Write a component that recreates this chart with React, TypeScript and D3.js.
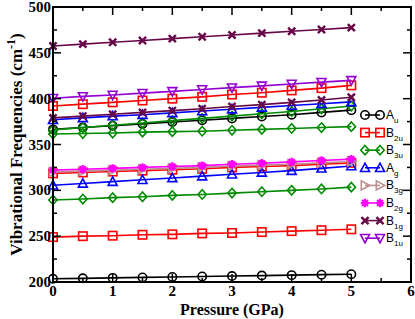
import React from "react";
import * as d3 from "d3";

const pressures = [0, 0.5, 1, 1.5, 2, 2.5, 3, 3.5, 4, 4.5, 5];

const auLow = [203.5, 204, 204.5, 205, 205.5, 206, 206.5, 207, 207.5, 208, 208.5];
const auHigh = [366.5, 368.5, 370.5, 372.5, 374.5, 376.5, 378.5, 380.5, 382.5, 385, 387.5];
const b2uLow = [249, 250, 250.5, 251.5, 252, 253, 253.5, 254.5, 255.5, 256.5, 257.5];
const b2uMid = [318.5, 319.5, 320.5, 321.5, 322.5, 323.5, 325, 326, 327, 328.5, 330];
const b2uHigh = [392, 394, 396, 398, 400, 402, 404.5, 406.5, 409, 411.5, 414.5];
const b3uLow = [289.5, 290.5, 292, 293, 294.5, 295.5, 297, 298.5, 300, 301.5, 303.5];
const b3uMid = [361.5, 362, 362.5, 363.5, 364, 364.5, 365.5, 366.5, 367.5, 368.5, 369.5];
const b3uHigh = [366, 368.5, 371, 373.5, 376, 378.5, 381, 383.5, 386, 389, 392];
const agLow = [305.5, 307.5, 309.5, 311.5, 313.5, 315.5, 317.5, 319.5, 321.5, 324, 326.5];
const agHigh = [377, 379, 381, 382.5, 384.5, 386.5, 388.5, 390.5, 392.5, 394.5, 396.5];
const b3g = [320, 321, 322, 323, 324, 325, 326.5, 327.5, 328.5, 330, 331.5];
const b2g = [322, 323, 324, 325, 326, 327, 328.5, 329.5, 331, 332.5, 334];
const b1gHigh = [457.5, 459.5, 461.5, 463.5, 465.5, 467.5, 469.5, 471.5, 473.5, 475.5, 477.5];
const b1gLow = [379, 381, 383, 385, 387, 389, 391.5, 393.5, 396, 398.5, 401.5];
const b1u = [400.5, 402.5, 404, 406, 408, 410, 412, 414, 416, 418, 420];

const xTicks = [0, 1, 2, 3, 4, 5, 6];
const yTicks = [200, 250, 300, 350, 400, 450, 500];

type Shape = "circle" | "square" | "diamond" | "triUp" | "triRight" | "star" | "x" | "triDown";

const seriesList: { main: string; sub: string; color: string; shape: Shape; lines: number[][] }[] = [
  { main: "A", sub: "u", color: "#000000", shape: "circle", lines: [auLow, auHigh] },
  { main: "B", sub: "2u", color: "#ff0000", shape: "square", lines: [b2uLow, b2uMid, b2uHigh] },
  { main: "B", sub: "3u", color: "#008b00", shape: "diamond", lines: [b3uLow, b3uMid, b3uHigh] },
  { main: "A", sub: "g", color: "#0000ff", shape: "triUp", lines: [agLow, agHigh] },
  { main: "B", sub: "3g", color: "#bc8f8f", shape: "triRight", lines: [b3g] },
  { main: "B", sub: "2g", color: "#ff00ff", shape: "star", lines: [b2g] },
  { main: "B", sub: "1g", color: "#670748", shape: "x", lines: [b1gHigh, b1gLow] },
  { main: "B", sub: "1u", color: "#9400d3", shape: "triDown", lines: [b1u] },
];

const W = 415;
const H = 319;
const left = 53;
const right = 411;
const top = 7;
const bottom = 282;

const x = d3.scaleLinear().domain([0, 6]).range([left, right]);
const y = d3.scaleLinear().domain([200, 500]).range([bottom, top]);

function Marker({ cx, cy, shape, color }: { cx: number; cy: number; shape: Shape; color: string }) {
  const s = 4.2;
  const common = { fill: "none", stroke: color, strokeWidth: 1.6 };
  switch (shape) {
    case "circle":
      return <circle cx={cx} cy={cy} r={s} {...common} />;
    case "square":
      return <rect x={cx - s} y={cy - s} width={2 * s} height={2 * s} {...common} />;
    case "diamond":
      return <path d={`M${cx},${cy - s - 0.5}L${cx + s},${cy}L${cx},${cy + s + 0.5}L${cx - s},${cy}Z`} {...common} />;
    case "triUp":
      return <path d={`M${cx},${cy - s - 0.5}L${cx + s + 0.3},${cy + s - 0.5}L${cx - s - 0.3},${cy + s - 0.5}Z`} {...common} />;
    case "triDown":
      return <path d={`M${cx},${cy + s + 0.5}L${cx + s + 0.3},${cy - s + 0.5}L${cx - s - 0.3},${cy - s + 0.5}Z`} {...common} />;
    case "triRight":
      return <path d={`M${cx + s + 0.5},${cy}L${cx - s + 0.5},${cy - s - 0.3}L${cx - s + 0.5},${cy + s + 0.3}Z`} {...common} />;
    case "star": {
      const r = s;
      const d = [0, 45, 90, 135]
        .map((a) => {
          const rad = (a * Math.PI) / 180;
          const dx = r * Math.cos(rad);
          const dy = r * Math.sin(rad);
          return `M${cx - dx},${cy - dy}L${cx + dx},${cy + dy}`;
        })
        .join("");
      return (
        <g>
          <circle cx={cx} cy={cy} r={2.2} fill={color} />
          <path d={d} fill="none" stroke={color} strokeWidth={2.2} />
        </g>
      );
    }
    case "x": {
      const r = s * 0.85;
      return (
        <path
          d={`M${cx - r},${cy - r}L${cx + r},${cy + r}M${cx - r},${cy + r}L${cx + r},${cy - r}`}
          fill="none"
          stroke={color}
          strokeWidth={2.4}
        />
      );
    }
  }
  return null;
}

export default function App() {
  const line = d3
    .line<number>()
    .x((_, i) => x(pressures[i]))
    .y((v) => y(v));

  const xMinor = d3.range(0, 6.01, 0.5).filter((v) => !xTicks.includes(v));
  const yMinor = d3.range(200, 500.1, 25).filter((v) => !yTicks.includes(v));

  const legendX1 = 365;
  const legendX2 = 380;
  const legendY0 = 115;
  const legendDy = 17.6;

  return (
    <svg width={W} height={H} style={{ position: "absolute", left: 0, top: 0 }}>
      <rect x={0} y={0} width={W} height={H} fill="#fff" />
      {/* data */}
      {seriesList.map((s, si) =>
        s.lines.map((vals, li) => (
          <g key={`${si}-${li}`}>
            <path d={line(vals) || ""} fill="none" stroke={s.color} strokeWidth={1.6} />
            {vals.map((v, i) => (
              <Marker key={i} cx={x(pressures[i])} cy={y(v)} shape={s.shape} color={s.color} />
            ))}
          </g>
        ))
      )}

      {/* frame */}
      <rect x={left} y={top} width={right - left} height={bottom - top} fill="none" stroke="#000" strokeWidth={2} />

      {/* x ticks */}
      {xTicks.map((t) => (
        <g key={`xt${t}`}>
          <line x1={x(t)} x2={x(t)} y1={bottom} y2={bottom - 8} stroke="#000" strokeWidth={1.5} />
          <line x1={x(t)} x2={x(t)} y1={top} y2={top + 8} stroke="#000" strokeWidth={1.5} />
          <text
            x={x(t)}
            y={bottom + 14}
            textAnchor="middle"
            fontFamily="'Liberation Serif', 'Times New Roman', serif"
            fontWeight="bold"
            fontSize={15}
          >
            {t}
          </text>
        </g>
      ))}
      {xMinor.map((t) => (
        <g key={`xm${t}`}>
          <line x1={x(t)} x2={x(t)} y1={bottom} y2={bottom - 4} stroke="#000" strokeWidth={1.5} />
          <line x1={x(t)} x2={x(t)} y1={top} y2={top + 4} stroke="#000" strokeWidth={1.5} />
        </g>
      ))}

      {/* y ticks */}
      {yTicks.map((t) => (
        <g key={`yt${t}`}>
          <line x1={left} x2={left + 8} y1={y(t)} y2={y(t)} stroke="#000" strokeWidth={1.5} />
          <line x1={right} x2={right - 8} y1={y(t)} y2={y(t)} stroke="#000" strokeWidth={1.5} />
          <text
            x={left - 2}
            y={y(t) + 5}
            textAnchor="end"
            fontFamily="'Liberation Serif', 'Times New Roman', serif"
            fontWeight="bold"
            fontSize={15}
          >
            {t}
          </text>
        </g>
      ))}
      {yMinor.map((t) => (
        <g key={`ym${t}`}>
          <line x1={left} x2={left + 4} y1={y(t)} y2={y(t)} stroke="#000" strokeWidth={1.5} />
          <line x1={right} x2={right - 4} y1={y(t)} y2={y(t)} stroke="#000" strokeWidth={1.5} />
        </g>
      ))}

      {/* axis labels */}
      <text
        x={(left + right) / 2}
        y={315}
        textAnchor="middle"
        fontFamily="'Liberation Serif', 'Times New Roman', serif"
        fontWeight="bold"
        fontSize={16}
      >
        Pressure (GPa)
      </text>
      <text
        transform={`translate(22,${(top + bottom) / 2}) rotate(-90)`}
        textAnchor="middle"
        fontFamily="'Liberation Serif', 'Times New Roman', serif"
        fontWeight="bold"
        fontSize={17}
      >
        Vibrational Frequencies (cm
        <tspan dy={-7} fontSize={12}>-1</tspan>
        <tspan dy={7}>)</tspan>
      </text>

      {/* legend */}
      {seriesList.map((s, i) => {
        const ly = legendY0 + i * legendDy;
        return (
          <g key={`lg${i}`}>
            <line x1={legendX1} x2={legendX2} y1={ly} y2={ly} stroke={s.color} strokeWidth={1.6} />
            <Marker cx={legendX1} cy={ly} shape={s.shape} color={s.color} />
            <Marker cx={legendX2} cy={ly} shape={s.shape} color={s.color} />
            <text x={386} y={ly + 4} fontFamily="'Liberation Sans', Arial, sans-serif" fontSize={12}>
              {s.main}
              <tspan dy={4} fontSize={8}>{s.sub}</tspan>
            </text>
          </g>
        );
      })}
    </svg>
  );
}
